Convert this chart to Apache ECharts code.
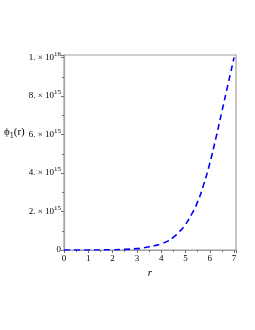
<!DOCTYPE html>
<html><head><meta charset="utf-8">
<script src="https://cdn.jsdelivr.net/npm/echarts@6/dist/echarts.min.js"></script>
<style>html,body{margin:0;padding:0;background:#fff}#c{width:255px;height:330px}</style>
</head><body><div id="c"></div>
<script>
var rValues = [0, 0.5, 1, 1.5, 2, 2.5, 3, 3.25, 3.5, 3.75, 4, 4.25, 4.5, 4.75, 5, 5.25, 5.5, 5.75, 6, 6.25, 6.5, 6.75, 7];
var phiValues = [0, 0, 0.001e15, 0.003e15, 0.01e15, 0.03e15, 0.07e15, 0.11e15, 0.17e15, 0.23e15, 0.32e15, 0.45e15, 0.66e15, 0.95e15, 1.32e15, 1.85e15, 2.5e15, 3.4e15, 4.5e15, 5.8e15, 7.2e15, 8.6e15, 10.0e15];
var xTicks = [0, 1, 2, 3, 4, 5, 6, 7];
var yTickLabels = {0: '0', 2e15: '2. × 10{s|15}', 4e15: '4. × 10{s|15}', 6e15: '6. × 10{s|15}', 8e15: '8. × 10{s|15}', 1e16: '1. × 10{s|16}'};

var chart = echarts.init(document.getElementById('c'));
var font = 'Liberation Serif';
chart.setOption({
  animation: false,
  grid: {left: 64, right: 19, top: 55, bottom: 80, show: true, borderColor: '#a0a0a0', borderWidth: 1.2},
  xAxis: {
    type: 'value', min: 0, max: 7.08, interval: 1,
    name: 'r', nameLocation: 'middle', nameGap: 17,
    nameTextStyle: {fontFamily: font, fontStyle: 'italic', fontSize: 11, color: '#000'},
    axisLine: {lineStyle: {color: '#a0a0a0', width: 1.2}},
    axisTick: {length: 3, lineStyle: {color: '#707070'}},
    minorTick: {show: true, splitNumber: 2, length: 2, lineStyle: {color: '#707070'}},
    axisLabel: {fontFamily: font, fontSize: 9, color: '#000', margin: 4, showMaxLabel: false,
      formatter: function (v) { return xTicks.indexOf(v) >= 0 ? String(v) : ''; }},
    splitLine: {show: false}
  },
  yAxis: {
    type: 'value', min: 0, max: 1.013e16, interval: 2e15,
    axisLine: {show: true, lineStyle: {color: '#a0a0a0', width: 1.2}},
    axisTick: {length: 3, lineStyle: {color: '#707070'}},
    minorTick: {show: true, splitNumber: 2, length: 2, lineStyle: {color: '#707070'}},
    axisLabel: {fontFamily: font, fontSize: 9, color: '#000', margin: 3,
      formatter: function (v) { return yTickLabels[v] !== undefined ? yTickLabels[v] : ''; },
      rich: {s: {fontFamily: font, fontSize: 7, verticalAlign: 'top', padding: [0, 0, 7, 0], color: '#000'}}},
    splitLine: {show: false}
  },
  graphic: [{
    type: 'text', left: 4, top: 127,
    style: {text: 'ϕ{s|1}(r)', font: '11px "Liberation Serif"', fill: '#000',
      rich: {s: {fontFamily: font, fontSize: 8, padding: [6, 0, 0, 0], fill: '#000'}}}
  }],
  series: [{
    type: 'line', data: rValues.map(function (r, i) { return [r, phiValues[i]]; }),
    smooth: true, showSymbol: false,
    lineStyle: {color: '#0000ff', width: 1.6, type: [6, 4]}
  }]
});
</script></body></html>
